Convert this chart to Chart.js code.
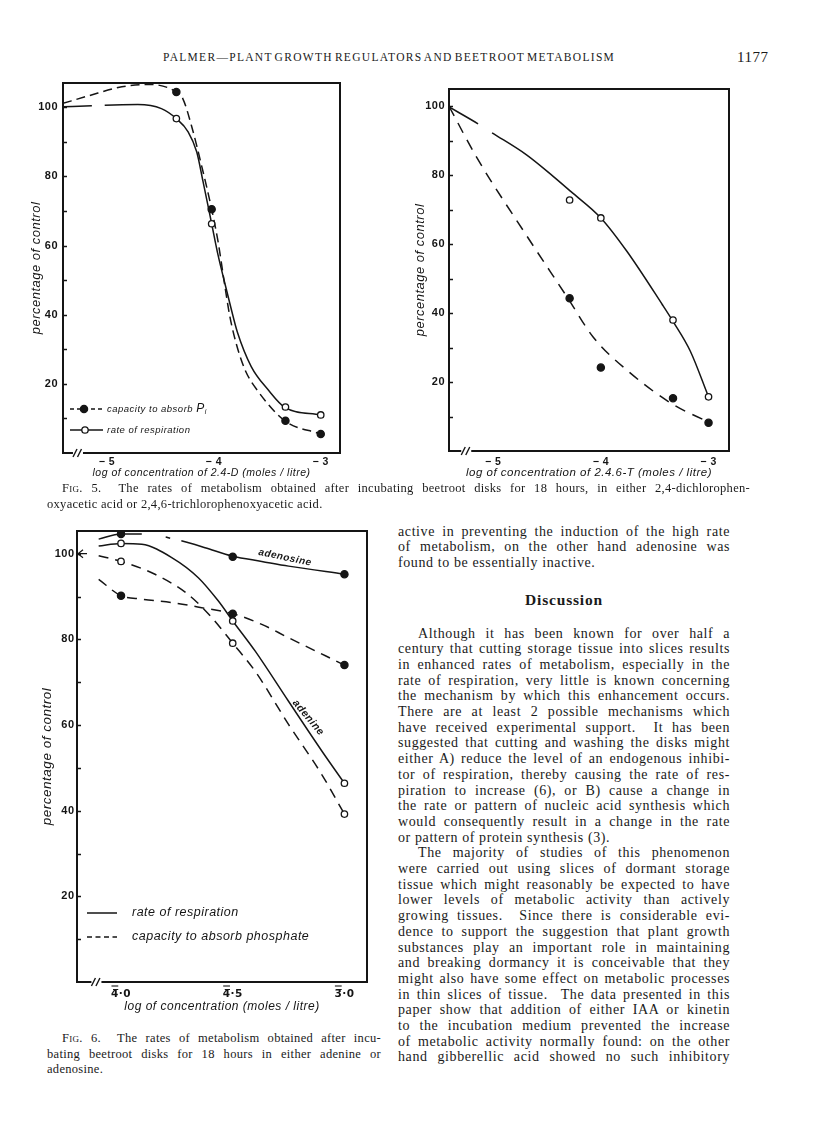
<!DOCTYPE html>
<html lang="en"><head><meta charset="utf-8"><title>Palmer — Plant growth regulators and beetroot metabolism, p. 1177</title>
<script src="https://cdn.jsdelivr.net/npm/chart.js@4.4.1/dist/chart.umd.min.js"></script>
<style>
html,body{margin:0;padding:0;background:#fff}
body{width:816px;height:1121px;position:relative;overflow:hidden;color:#1a1a1a;font-family:"Liberation Serif","Times New Roman",serif}
canvas{position:absolute}
.t{position:absolute;white-space:pre;margin:0}
.sc{font-variant:small-caps}
.body{font-size:14px;letter-spacing:0.6px;line-height:16px}
.cap{font-size:12.5px;letter-spacing:0.3px;line-height:15px}
</style></head><body>
<canvas id="c1" width="333" height="415" style="left:22px;top:70px"></canvas>
<canvas id="c2" width="340" height="410" style="left:405px;top:75px"></canvas>
<canvas id="c3" width="345" height="500" style="left:35px;top:520px"></canvas>
<script>
// ================= DATA =================
// Fig. 5 (left) — 2,4-D ; x = log concentration (moles/litre)
const f5aConc      = [-4.35, -4.02, -3.33, -3.0];
const f5aPhosPts   = [104.4, 70.5, 9.3, 5.5];     // capacity to absorb Pi (filled)
const f5aRespPts   = [96.7, 66.3, 13.3, 11.0];    // rate of respiration (open)
const f5aPhosCurveX = [-5.41, -5.17, -4.86, -4.61, -4.35, -4.29, -4.21, -4.115, -4.02, -3.96, -3.90, -3.85, -3.78, -3.70, -3.59, -3.336, -3.0];
const f5aPhosCurveY = [101.1, 103.3, 105.9, 106.6, 104.4, 102.5, 94.8, 83.2, 70.5, 61.1, 49.0, 39.5, 30.5, 23.5, 18.0, 9.3, 5.5];
const f5aRespCurveX = [-5.41, -5.14, -5.02, -4.71, -4.49, -4.35, -4.24, -4.16, -4.10, -4.02, -3.96, -3.90, -3.84, -3.78, -3.65, -3.49, -3.336, -3.0];
const f5aRespCurveY = [100.1, 100.4, 100.6, 100.8, 99.6, 96.7, 92.9, 87.1, 78.4, 66.3, 57.2, 49.5, 42.0, 35.0, 25.0, 18.2, 13.2, 11.0];

// Fig. 5 (right) — 2,4,6-T
const f5bConc      = [-4.29, -4.0, -3.33, -3.0];
const f5bPhosPts   = [44.3, 24.2, 15.3, 8.2];
const f5bRespPts   = [72.8, 67.6, 38.0, 15.7];
const f5bPhosCurveX = [-5.41, -5.15, -4.69, -4.31, -4.07, -3.76, -3.33, -3.0];
const f5bPhosCurveY = [100.0, 85.0, 62.5, 44.5, 33.0, 23.5, 13.5, 8.4];
const f5bRespCurveX = [-5.41, -5.14, -5.01, -4.69, -4.44, -4.28, -4.0, -3.76, -3.43, -3.33, -3.17, -3.0];
const f5bRespCurveY = [99.8, 94.9, 92.3, 85.9, 79.6, 75.3, 67.6, 58.0, 42.5, 37.6, 29.0, 15.7];

// Fig. 6 — adenine / adenosine
const f6Conc              = [-4.0, -3.5, -3.0];
const f6AdenosineRespPts  = [104.6, 99.3, 95.2];
const f6AdenineRespPts    = [102.4, 84.3, 46.4];
const f6AdenosinePhosPts  = [90.2, 86.0, 74.0];
const f6AdeninePhosPts    = [98.2, 79.1, 39.2];
const f6AdenosineRespCurveX = [-4.10, -4.0, -3.907, -3.80, -3.78, -3.73, -3.624, -3.5, -3.37, -3.25, -3.0];
const f6AdenosineRespCurveY = [103.4, 104.6, 104.6, 103.9, 103.6, 103.0, 101.4, 99.4, 98.2, 97.1, 95.2];
const f6AdenineRespCurveX   = [-4.10, -4.0, -3.907, -3.773, -3.654, -3.565, -3.5, -3.40, -3.251, -3.102, -3.0];
const f6AdenineRespCurveY   = [101.8, 102.4, 102.2, 99.1, 94.4, 89.0, 84.3, 77.3, 65.6, 54.0, 46.4];
const f6AdeninePhosCurveX   = [-4.10, -4.0, -3.848, -3.70, -3.594, -3.5, -3.40, -3.251, -3.102, -3.0];
const f6AdeninePhosCurveY   = [99.5, 98.2, 95.2, 90.5, 85.1, 79.1, 72.6, 60.2, 48.5, 39.2];
const f6AdenosinePhosCurveX = [-4.10, -4.0, -3.907, -3.773, -3.639, -3.5, -3.37, -3.251, -3.0];
const f6AdenosinePhosCurveY = [94.0, 90.2, 89.4, 88.6, 87.4, 86.0, 83.5, 80.4, 74.0];

// Tick values and labels
const yTickVals    = [10, 20, 30, 40, 50, 60, 70, 80, 90, 100];
const yTickLabels  = ['', '20', '', '40', '', '60', '', '80', '', '100'];
const f5xTickVals  = [-5, -4, -3];
const f5xTickLabels = ['\u2212 5', '\u2212 4', '\u2212 3'];
const f6xTickVals  = [-4.0, -3.5, -3.0];
const f6xTickLabels = ['4\u0305\u00b70', '4\u0305\u00b75', '3\u0305\u00b70'];   // bar (negative characteristic) over first digit

// ================= STYLE / HELPERS =================
const INK = '#151515';
const SANS = '"Liberation Sans", Arial, sans-serif';
const DJV = '"DejaVu Sans", "Liberation Sans", sans-serif';

function pts(xs, ys) { return xs.map((x, i) => ({ x: x, y: ys[i] })); }
function pointSet(label, xs, ys, filled) {
  return { label, data: pts(xs, ys), showLine: false, order: 0,
    pointRadius: filled ? 3.6 : 3.2, pointBackgroundColor: filled ? INK : '#fff',
    pointBorderColor: INK, pointBorderWidth: 1.3, pointHoverRadius: 0 };
}
function curveSet(label, xs, ys, dash, gaps) {
  const d = { label, data: pts(xs, ys), order: 1, borderColor: INK, borderWidth: 1.5,
    borderDash: dash || [], pointRadius: 0, pointHoverRadius: 0, cubicInterpolationMode: 'monotone', fill: false };
  if (gaps) d.segment = { borderColor: c => gaps.includes(c.p0.parsed.x) ? 'rgba(0,0,0,0)' : undefined };
  return d;
}

const paper = {
  id: 'paper',
  beforeDraw(chart, args, o) { chart.ctx.letterSpacing = o.spacing || '0px'; },
  beforeDatasetsDraw(chart, args, o) {
    const { ctx, chartArea: a, scales: { x, y } } = chart;
    ctx.save();
    ctx.strokeStyle = INK; ctx.lineWidth = 2;
    ctx.strokeRect(a.left, a.top, a.right - a.left, a.bottom - a.top);
    ctx.lineWidth = 1.5;
    y.ticks.forEach(t => {
      const py = Math.round(y.getPixelForValue(t.value)) + 0.5;
      ctx.beginPath(); ctx.moveTo(a.left, py); ctx.lineTo(a.left + 4, py); ctx.stroke();
    });
    if (o.breakAt != null) {
      const bx = x.getPixelForValue(o.breakAt);
      ctx.fillStyle = '#fff'; ctx.fillRect(bx - 5, a.bottom - 3, 10, 6);
      ctx.lineWidth = 1.4;
      [-3, 1.5].forEach(d => { ctx.beginPath(); ctx.moveTo(bx + d - 2, a.bottom + 4); ctx.lineTo(bx + d + 2, a.bottom - 4); ctx.stroke(); });
    }
    if (o.arrowAt != null) {
      const py = y.getPixelForValue(o.arrowAt);
      ctx.lineWidth = 1.2;
      ctx.beginPath(); ctx.moveTo(a.left + 1, py); ctx.lineTo(a.left + 10, py);
      ctx.moveTo(a.left + 6, py - 4); ctx.lineTo(a.left + 1, py); ctx.lineTo(a.left + 6, py + 4); ctx.stroke();
    }
    ctx.restore();
  },
  afterDatasetsDraw(chart, args, o) {
    const { ctx, chartArea: a, scales: { x, y } } = chart;
    (o.legend || []).forEach(it => {
      const line = chart.data.datasets[it.line];
      const pt = it.point != null ? chart.data.datasets[it.point] : null;
      const yy = a.bottom - it.dy;
      ctx.save();
      ctx.strokeStyle = INK; ctx.lineWidth = 1.5;
      ctx.setLineDash(it.dash || []);
      ctx.beginPath(); ctx.moveTo(a.left + it.x0, yy); ctx.lineTo(a.left + it.x1, yy); ctx.stroke();
      ctx.setLineDash([]);
      if (pt) {
        ctx.beginPath(); ctx.arc(a.left + it.mx, yy, pt.pointRadius, 0, 2 * Math.PI);
        ctx.fillStyle = pt.pointBackgroundColor; ctx.fill(); ctx.lineWidth = pt.pointBorderWidth; ctx.stroke();
      }
      ctx.fillStyle = INK; ctx.textBaseline = 'middle'; ctx.textAlign = 'left';
      ctx.letterSpacing = o.spacing || '0px';
      let tx = a.left + it.tx;
      const parts = it.parts || [{ t: line.label }];
      parts.forEach(p => { ctx.font = p.font || o.legendFont; ctx.fillText(p.t, tx, yy + (p.dy || 0)); tx += ctx.measureText(p.t).width; });
      ctx.restore();
    });
    (o.labels || []).forEach(l => {
      ctx.save();
      ctx.translate(x.getPixelForValue(l.x), y.getPixelForValue(l.y));
      ctx.rotate(l.rot * Math.PI / 180);
      ctx.font = l.font; ctx.fillStyle = INK; ctx.textAlign = 'center'; ctx.textBaseline = 'middle';
      ctx.letterSpacing = o.spacing || '0px';
      ctx.fillText(l.text, 0, 0);
      ctx.restore();
    });
  },
  afterDraw(chart, args, o) {
    if (!o.overbar) return;
    const { ctx, chartArea: a, scales: { x } } = chart;
    ctx.save();
    ctx.font = o.overbar.font; ctx.letterSpacing = o.spacing || '0px';
    ctx.strokeStyle = INK; ctx.lineWidth = 1.1;
    x.ticks.forEach((t, i) => {
      const lab = String(x.ticks[i].label || '');
      if (lab.indexOf('\u0305') < 0) return;
      const plain = lab.replace(/\u0305/g, '');
      const w = ctx.measureText(plain).width;
      const w1 = ctx.measureText(plain[0]).width;
      const left = x.getPixelForValue(t.value) - w / 2;
      const by = a.bottom + o.overbar.dy;
      ctx.beginPath(); ctx.moveTo(left + 0.5, by); ctx.lineTo(left + w1 - 0.5, by); ctx.stroke();
    });
    ctx.restore();
  }
};

function makeChart(id, datasets, ax, paperOpts) {
  return new Chart(document.getElementById(id), {
    type: 'line',
    data: { datasets },
    options: {
      responsive: false, animation: false, events: [],
      layout: { padding: { left: 0, top: ax.padTop, right: ax.padRight, bottom: 0 } },
      scales: {
        x: { type: 'linear', min: ax.xmin, max: ax.xmax,
          grid: { display: false, drawTicks: false }, border: { display: false },
          afterBuildTicks: s => { s.ticks = ax.xTicks.map(v => ({ value: v })); },
          afterFit: s => { s.height = ax.xh; },
          ticks: { padding: ax.xTickPad, color: INK, autoSkip: false, maxRotation: 0,
            font: { family: ax.xTickFamily || SANS, size: ax.xTickSize, weight: 'bold' }, callback: (v, i) => ax.xLabels[i] },
          title: { display: true, text: ax.xTitle, color: INK,
            font: { family: SANS, size: ax.xTitleSize, style: 'italic' }, padding: { top: 0, bottom: ax.xTitlePad } } },
        y: { type: 'linear', min: 0, max: ax.ymax,
          grid: { display: false, drawTicks: false }, border: { display: false },
          afterBuildTicks: s => { s.ticks = yTickVals.map(v => ({ value: v })); },
          afterFit: s => { s.width = ax.yw; },
          ticks: { padding: ax.yTickPad, color: INK, autoSkip: false,
            font: { family: SANS, size: 11, weight: 'bold' }, callback: (v, i) => yTickLabels[i] },
          title: { display: true, text: 'percentage of control', color: INK,
            font: { family: SANS, size: ax.yTitleSize, style: 'italic' }, padding: { top: ax.yTitlePad, bottom: 0 } } }
      },
      plugins: { legend: { display: false }, tooltip: { enabled: false }, paper: paperOpts }
    },
    plugins: [paper]
  });
}

// ================= FIG. 5 LEFT =================
makeChart('c1', [
  pointSet('capacity to absorb Pi', f5aConc, f5aPhosPts, true),
  pointSet('rate of respiration', f5aConc, f5aRespPts, false),
  curveSet('capacity to absorb ', f5aPhosCurveX, f5aPhosCurveY, [9, 5]),
  curveSet('rate of respiration', f5aRespCurveX, f5aRespCurveY, [], [-5.14])
], { xmin: -5.41, xmax: -2.82, ymax: 107, padTop: 13, padRight: 15, yw: 41, xh: 32,
     xTicks: f5xTickVals, xLabels: f5xTickLabels, xTickPad: 3, xTickSize: 10.5,
     xTitle: 'log of concentration of 2.4-D (moles / litre)', xTitleSize: 10.5, xTitlePad: 5.5,
     yTickPad: 5, yTitleSize: 13, yTitlePad: 7 },
{ spacing: '0.5px', breakAt: -5.27, legendFont: 'italic 9.5px ' + SANS,
  legend: [
    { line: 2, point: 0, dash: [4, 3], x0: 7, x1: 40, mx: 21, tx: 44, dy: 44,
      parts: [{ t: 'capacity to absorb ' }, { t: 'P', font: 'italic 12px ' + SANS }, { t: 'i', font: 'italic 7px ' + SANS, dy: 3 }] },
    { line: 3, point: 1, x0: 7, x1: 40, mx: 22, tx: 44, dy: 23 }
  ] });

// ================= FIG. 5 RIGHT =================
makeChart('c2', [
  pointSet('capacity to absorb Pi', f5bConc, f5bPhosPts, true),
  pointSet('rate of respiration', f5bConc, f5bRespPts, false),
  curveSet('capacity to absorb Pi', f5bPhosCurveX, f5bPhosCurveY, [11, 8]),
  curveSet('rate of respiration', f5bRespCurveX, f5bRespCurveY, [], [-5.14])
], { xmin: -5.41, xmax: -2.81, ymax: 105, padTop: 14, padRight: 16, yw: 44, xh: 34,
     xTicks: f5xTickVals, xLabels: f5xTickLabels, xTickPad: 5, xTickSize: 10.5,
     xTitle: 'log of concentration of 2.4.6-T (moles / litre)', xTitleSize: 11.5, xTitlePad: 5,
     yTickPad: 4, yTitleSize: 13, yTitlePad: 8 },
{ spacing: '0.5px', breakAt: -5.25 });

// ================= FIG. 6 =================
makeChart('c3', [
  pointSet('adenosine — respiration', f6Conc, f6AdenosineRespPts, true),
  pointSet('adenine — respiration', f6Conc, f6AdenineRespPts, false),
  pointSet('adenosine — phosphate', f6Conc, f6AdenosinePhosPts, true),
  pointSet('adenine — phosphate', f6Conc, f6AdeninePhosPts, false),
  curveSet('rate of respiration', f6AdenosineRespCurveX, f6AdenosineRespCurveY, [], [-3.907, -3.78]),
  curveSet('rate of respiration', f6AdenineRespCurveX, f6AdenineRespCurveY, []),
  curveSet('capacity to absorb phosphate', f6AdenosinePhosCurveX, f6AdenosinePhosCurveY, [10, 7]),
  curveSet('capacity to absorb phosphate', f6AdeninePhosCurveX, f6AdeninePhosCurveY, [10, 7])
], { xmin: -4.197, xmax: -2.899, ymax: 105.3, padTop: 11, padRight: 13, yw: 42, xh: 38,
     xTicks: f6xTickVals, xLabels: f6xTickLabels, xTickPad: 6, xTickSize: 10.5, xTickFamily: DJV,
     xTitle: 'log of concentration (moles / litre)', xTitleSize: 12, xTitlePad: 5.8,
     yTickPad: 2.5, yTitleSize: 13.5, yTitlePad: 4 },
{ spacing: '0.5px', breakAt: -4.11, arrowAt: 100, legendFont: 'italic 12.5px ' + SANS,
  overbar: { font: 'bold 10.5px ' + DJV, dy: 4 },
  legend: [
    { line: 5, x0: 10, x1: 40, tx: 55, dy: 69 },
    { line: 6, dash: [5, 3.5], x0: 10, x1: 40, tx: 55, dy: 45 }
  ],
  labels: [
    { text: 'adenosine', x: -3.266, y: 99.1, rot: 12, font: 'italic bold 10px ' + SANS },
    { text: 'adenine', x: -3.162, y: 61.7, rot: 50, font: 'italic bold 10.5px ' + SANS }
  ] });

// ================= TEXT =================
function addLine(html, left, top, width, cls) {
  const d = document.createElement('div');
  d.className = 't ' + (cls || '');
  d.style.left = left + 'px'; d.style.top = top + 'px';
  d.innerHTML = html;
  document.body.appendChild(d);
  if (width) {
    const w = d.getBoundingClientRect().width;
    const n = (d.textContent.match(/ /g) || []).length;
    if (n) d.style.wordSpacing = ((width - w) / n) + 'px';
  }
  return d;
}
// running head
const head = addLine('PALMER\u2014PLANT GROWTH REGULATORS AND BEETROOT METABOLISM', 163, 50, 0, '');
head.style.fontSize = '11.5px'; head.style.letterSpacing = '1.3px'; head.style.lineHeight = '14px';
(function(){ const w = head.getBoundingClientRect().width; head.style.wordSpacing = ((450 - w) / 6) + 'px'; })();
const pg = addLine('1177', 737, 48, 0, '');
pg.style.fontSize = '15px'; pg.style.lineHeight = '18px'; pg.style.letterSpacing = '0.5px';

// captions
addLine('<span class="sc">Fig.</span> 5.  The rates of metabolism obtained after incubating beetroot disks for 18 hours, in either 2,4-dichlorophen-', 62, 481, 688, 'cap');
addLine('oxyacetic acid or 2,4,6-trichlorophenoxyacetic acid.', 47, 497, 0, 'cap');
addLine('<span class="sc">Fig.</span> 6.  The rates of metabolism obtained after incu-', 62, 1031, 319, 'cap');
addLine('bating beetroot disks for 18 hours in either adenine or', 47, 1047, 334, 'cap');
addLine('adenosine.', 47, 1062, 0, 'cap');

// right column body text: [text, indent, justify]
const colL = 398, colW = 332;
const block1 = [
  ['active in preventing the induction of the high rate', 0, 1],
  ['of metabolism, on the other hand adenosine was', 0, 1],
  ['found to be essentially inactive.', 0, 0]
];
const block2 = [
  ['Although it has been known for over half a', 20, 1],
  ['century that cutting storage tissue into slices results', 0, 1],
  ['in enhanced rates of metabolism, especially in the', 0, 1],
  ['rate of respiration, very little is known concerning', 0, 1],
  ['the mechanism by which this enhancement occurs.', 0, 1],
  ['There are at least 2 possible mechanisms which', 0, 1],
  ['have received experimental support.  It has been', 0, 1],
  ['suggested that cutting and washing the disks might', 0, 1],
  ['either A) reduce the level of an endogenous inhibi-', 0, 1],
  ['tor of respiration, thereby causing the rate of res-', 0, 1],
  ['piration to increase (6), or B) cause a change in', 0, 1],
  ['the rate or pattern of nucleic acid synthesis which', 0, 1],
  ['would consequently result in a change in the rate', 0, 1],
  ['or pattern of protein synthesis (3).', 0, 0],
  ['The majority of studies of this phenomenon', 20, 1],
  ['were carried out using slices of dormant storage', 0, 1],
  ['tissue which might reasonably be expected to have', 0, 1],
  ['lower levels of metabolic activity than actively', 0, 1],
  ['growing tissues.  Since there is considerable evi-', 0, 1],
  ['dence to support the suggestion that plant growth', 0, 1],
  ['substances play an important role in maintaining', 0, 1],
  ['and breaking dormancy it is conceivable that they', 0, 1],
  ['might also have some effect on metabolic processes', 0, 1],
  ['in thin slices of tissue.  The data presented in this', 0, 1],
  ['paper show that addition of either IAA or kinetin', 0, 1],
  ['to the incubation medium prevented the increase', 0, 1],
  ['of metabolic activity normally found: on the other', 0, 1],
  ['hand gibberellic acid showed no such inhibitory', 0, 1]
];
const LH = 15.7;
block1.forEach((l, k) => addLine(l[0], colL + l[1], 533 + k * LH - 9.5, l[2] ? colW - l[1] : 0, 'body'));
const h = addLine('Discussion', 0, 591, 0, '');
h.style.fontSize = '15.5px'; h.style.fontWeight = 'bold'; h.style.letterSpacing = '0.8px'; h.style.lineHeight = '18px';
h.style.left = (colL + colW / 2 - h.getBoundingClientRect().width / 2) + 'px';
block2.forEach((l, k) => addLine(l[0], colL + l[1], 635 + k * LH - 9.5, l[2] ? colW - l[1] : 0, 'body'));
</script>
</body></html>
